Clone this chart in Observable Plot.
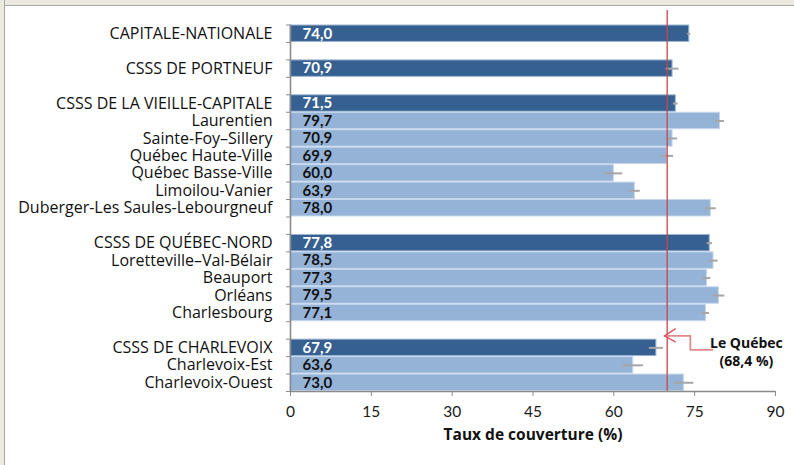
<!DOCTYPE html>
<html>
<head>
<meta charset="utf-8">
<script src="https://cdn.jsdelivr.net/npm/d3@7"></script>
<script src="https://cdn.jsdelivr.net/npm/@observablehq/plot@0.6"></script>
<style>
  html, body { margin: 0; padding: 0; background: #fff; }
  #wrap { position: relative; width: 794px; height: 465px; overflow: hidden; background: #fff; }
  #wrap svg { position: absolute; left: 0; top: 0; }
  .strip-top { position: absolute; left: 0; top: 0; width: 794px; height: 5px; background: #ECE9DF; border-bottom: 1.5px solid #A8A8A8; z-index: 2; }
  .strip-left { position: absolute; left: 0; top: 0; width: 4px; height: 465px; background: #ECE9DF; border-right: 1.5px solid #A8A8A8; z-index: 2; }
</style>
</head>
<body>
<div id="wrap"><div class="strip-top"></div><div class="strip-left"></div></div>
<script>
// ---- data ----
const categories = [
  "CAPITALE-NATIONALE",
  "CSSS DE PORTNEUF",
  "CSSS DE LA VIEILLE-CAPITALE",
  "Laurentien",
  "Sainte-Foy–Sillery",
  "Québec Haute-Ville",
  "Québec Basse-Ville",
  "Limoilou-Vanier",
  "Duberger-Les Saules-Lebourgneuf",
  "CSSS DE QUÉBEC-NORD",
  "Loretteville–Val-Bélair",
  "Beauport",
  "Orléans",
  "Charlesbourg",
  "CSSS DE CHARLEVOIX",
  "Charlevoix-Est",
  "Charlevoix-Ouest"
];
const levels = [
  "region", "csss", "csss", "clsc", "clsc", "clsc", "clsc", "clsc", "clsc",
  "csss", "clsc", "clsc", "clsc", "clsc", "csss", "clsc", "clsc"
];
const values = [74.0, 70.9, 71.5, 79.7, 70.9, 69.9, 60.0, 63.9, 78.0, 77.8, 78.5, 77.3, 79.5, 77.1, 67.9, 63.6, 73.0];
const errors = [0.3, 1.2, 0.45, 0.85, 0.95, 1.2, 1.65, 1.0, 1.0, 0.5, 0.85, 0.7, 1.1, 0.65, 1.3, 1.9, 1.85];
const xTicks = [0, 15, 30, 45, 60, 75, 90];
const xTitle = "Taux de couverture (%)";
const quebecValue = 68.4;          // value printed in the note
const quebecLinePos = 69.9;        // where the red reference line is drawn in the source
const noteText = "Le Québec\n(68,4 %)";

// ---- layout rows (blank row before each new group) ----
let r = -1;
const rows = levels.map((l, i) => { r += (i > 0 && l !== "clsc") ? 2 : 1; return r; });
const nRows = r + 1;
const fmt = v => d3.format(".1f")(v).replace(".", ",");
const data = categories.map((c, i) => ({
  cat: c, value: values[i], err: errors[i], header: levels[i] !== "clsc", row: rows[i]
}));

const dark = "#36608F", light = "#95B3D7";

// annotation geometry (data units: x in %, y in rows)
const arrowPath = [
  {x: 69.4, y: 17.81}, {x: 74.2, y: 17.81}, {x: 74.2, y: 18.62}, {x: 78.3, y: 18.62}
];
const arrowHead = [
  {x: 71.4, y: 17.41}, {x: 69.4, y: 17.81}, {x: 71.4, y: 18.16}
];

const labelFont = "'Open Sans', Lato, sans-serif";

const chart = Plot.plot({
  width: 794,
  height: 465,
  marginLeft: 290,
  marginRight: 19,
  marginTop: 24.5,
  marginBottom: 74,
  style: {fontFamily: "Lato, 'Open Sans', sans-serif", fontSize: "15px", background: "transparent", color: "#111"},
  x: {domain: [0, 90]},
  y: {domain: [0, nRows], reverse: true},
  marks: [
    Plot.rect(data, {
      x1: 0, x2: "value", y1: "row", y2: d => d.row + 1,
      fill: d => d.header ? dark : light,
      stroke: d => d.header ? "#9DB5D6" : "#C6D7EC", strokeWidth: 1,
      insetTop: 0.5, insetBottom: 0.5
    }),
    Plot.ruleY(data, {
      y: d => d.row + 0.5, x1: d => d.value - d.err, x2: d => d.value + d.err,
      stroke: "#A6A6A6", strokeWidth: 2
    }),
    Plot.ruleX([quebecLinePos], {y1: -0.83, y2: nRows, stroke: "#C8464B", strokeWidth: 1.3}),
    // axes
    Plot.ruleX([0], {stroke: "#8A8A8A", strokeWidth: 1.6}),
    Plot.ruleY([nRows], {stroke: "#8A8A8A", strokeWidth: 1.6}),
    Plot.axisY({ticks: d3.range(0, nRows + 1), tickFormat: () => "", tickSize: 4, stroke: "#8A8A8A", label: null}),
    Plot.axisX({ticks: xTicks, tickSize: 5, tickPadding: 9, fontSize: 15.5, stroke: "#8A8A8A", fill: "#1a1a1a", label: null}),
    Plot.text([xTitle], {frameAnchor: "bottom", lineAnchor: "top", dy: 37, fontWeight: "bold", fontSize: 15.5, fontFamily: labelFont, fill: "#111"}),
    // category labels
    Plot.text(data, {
      x: 0, y: d => d.row + 0.5, text: "cat", textAnchor: "end", dx: -18,
      fontSize: 16, fontFamily: labelFont, fill: "#111"
    }),
    // value labels
    Plot.text(data, {
      x: 0, y: d => d.row + 0.5, text: d => fmt(d.value), textAnchor: "start", dx: 12,
      fontSize: 15, fontWeight: "bold", fill: d => d.header ? "#ffffff" : "#111"
    }),
    // note
    Plot.line(arrowPath, {x: "x", y: "y", stroke: "#E08A8C", strokeWidth: 1.8, curve: "linear"}),
    Plot.line(arrowHead, {x: "x", y: "y", stroke: "#D9595E", strokeWidth: 1.4, curve: "linear"}),
    Plot.text([noteText], {x: 84.6, y: 18.71, fontSize: 14, fontWeight: "bold", fontFamily: labelFont, lineHeight: 1.22, fill: "#111"})
  ]
});
document.getElementById("wrap").appendChild(chart);
</script>
</body>
</html>
